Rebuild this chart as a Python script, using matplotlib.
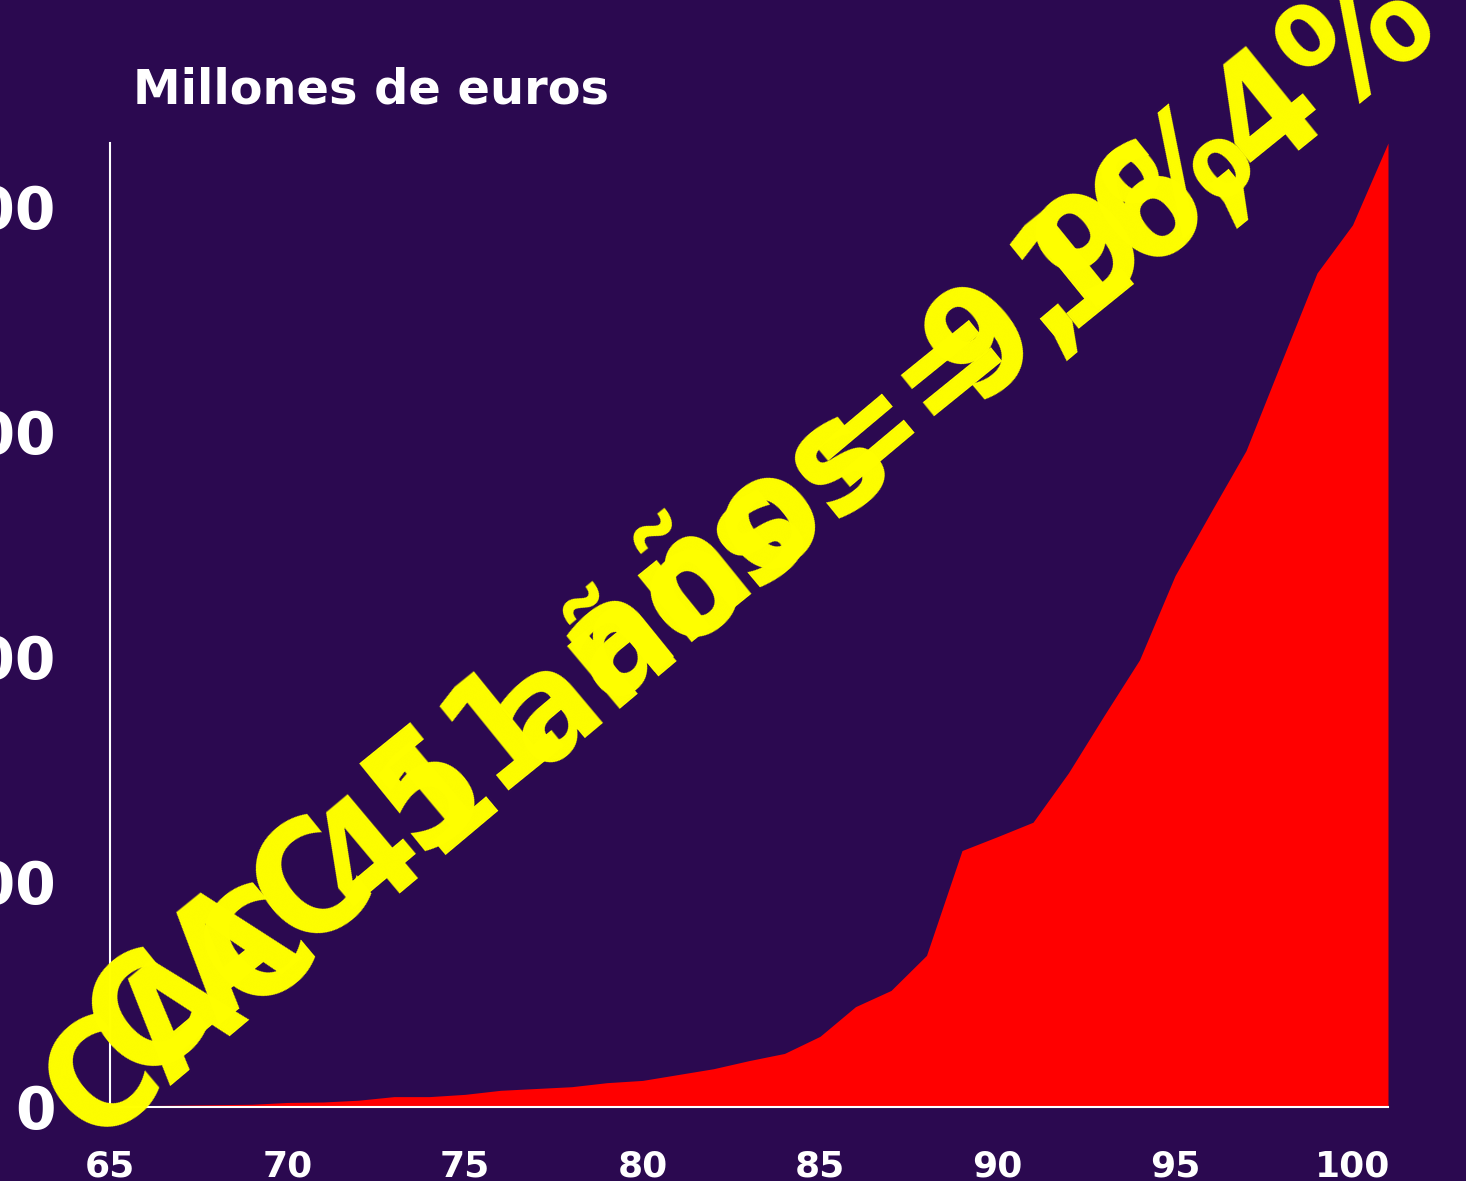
"""Area chart: Millones de euros, 1965-2001, with CAC annotations."""

import matplotlib

matplotlib.use("Agg")
import matplotlib.pyplot as plt

BG = "#2b0950"
RED = "#ff0000"
YELLOW = "#ffff00"
WHITE = "#ffffff"

years = list(range(65, 102))
values = [
    1, 2, 3, 4, 5, 9, 10, 14, 22, 22,
    27, 36, 40, 44, 53, 58, 71, 84, 102, 118,
    156, 222, 258, 336, 569, 600, 632, 742, 869, 993,
    1180, 1320, 1458, 1656, 1853, 1960, 2142,
]
x_ticks = [65, 70, 75, 80, 85, 90, 95, 100]
y_ticks = [0, 500, 1000, 1500, 2000]
y_tick_labels = ["0", "500", "1.000", "1.500", "2.000"]
y_max = 2142

title = "Millones de euros"
label_a = "CAC 41 años = 9,9%"
label_b = "CAC 51 años = 16,4%"

plt.rcParams["font.family"] = ["DejaVu Sans"]

W, H = 1466, 1181
fig = plt.figure(figsize=(W / 100, H / 100), dpi=100, facecolor=BG)
ax = fig.add_axes([110 / W, 1 - 1106.5 / H, (1388 - 110) / W, (1106.5 - 143) / H])
ax.set_facecolor(BG)

ax.fill_between(years, values, 0, color=RED, linewidth=0)

ax.set_xlim(65, 101)
ax.set_ylim(0, y_max)
ax.set_xticks(x_ticks)
ax.set_yticks(y_ticks)
ax.set_yticklabels(y_tick_labels)

for side in ("top", "right"):
    ax.spines[side].set_visible(False)
for side in ("left", "bottom"):
    ax.spines[side].set_color(WHITE)
    ax.spines[side].set_linewidth(1.5)

ax.tick_params(axis="x", length=0, pad=31, labelsize=26, labelcolor=WHITE)
ax.tick_params(axis="y", length=0, pad=39, labelsize=42, labelcolor=WHITE)
for lbl in ax.get_xticklabels() + ax.get_yticklabels():
    lbl.set_fontweight("bold")

fig.text(133 / W, 1 - 104 / H, title, color=WHITE, fontsize=34.5,
         fontweight="bold", ha="left", va="baseline")

# two overlapping rotated annotations
fig.text(95 / W, 1 - 1150 / H, label_a, color=YELLOW, fontsize=108,
         fontweight="bold", fontstretch="condensed",
         rotation=40, rotation_mode="anchor", ha="left", va="baseline")
fig.text(139 / W, 1 - 1090 / H, label_b, color=YELLOW, fontsize=112,
         fontweight="bold", fontstretch="condensed",
         rotation=39, rotation_mode="anchor", ha="left", va="baseline")

fig.savefig("out.png", dpi=100, facecolor=BG)
plt.close(fig)
